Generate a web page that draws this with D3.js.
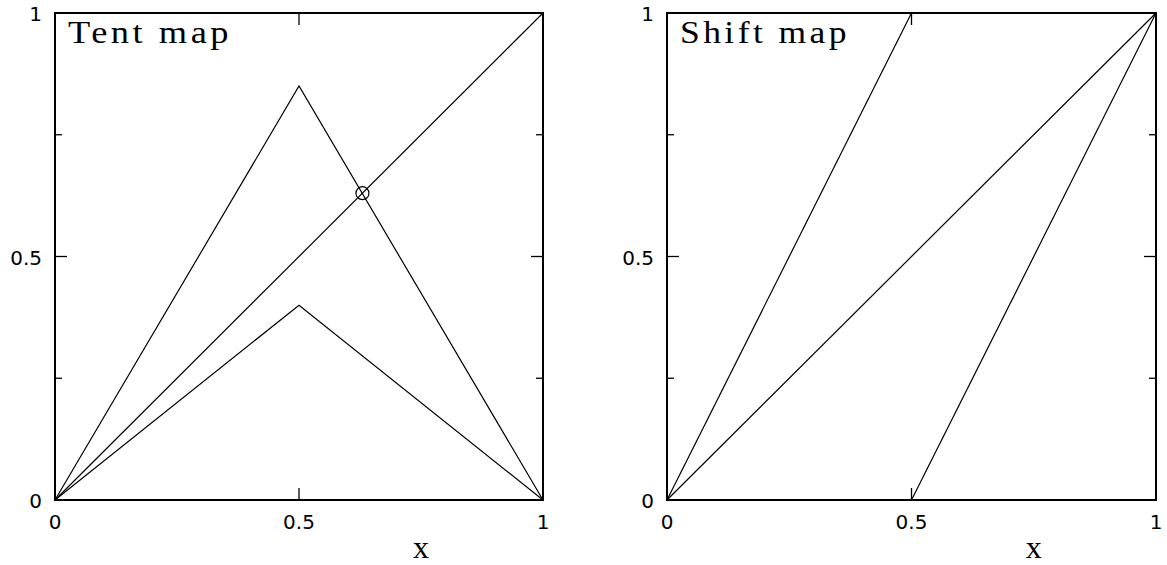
<!DOCTYPE html>
<html>
<head>
<meta charset="utf-8">
<script src="https://cdn.jsdelivr.net/npm/d3@7"></script>
<style>
  html, body { margin: 0; padding: 0; background: #fff; }
  svg { display: block; }
</style>
</head>
<body>
<svg id="chart" width="1167" height="565"></svg>
<script>
// Panel titles and axis labels
const panelTitles = ["Tent map", "Shift map"];
const titleWidths = [164, 170];
const axisLabel = "x";
const majorTicks = [0, 0.5, 1];
const tickLabels = ["0", "0.5", "1"];
const minorTicksY = [0.25, 0.75];

// Tent map curves
const tentUpper = [[0, 0], [0.5, 0.85], [1, 0]];
const tentLower = [[0, 0], [0.5, 0.4], [1, 0]];
const diagonal = [[0, 0], [1, 1]];
const fixedPoint = [0.63, 0.63];

// Shift map branches
const shiftLeft = [[0, 0], [0.5, 1]];
const shiftRight = [[0.5, 0], [1, 1]];

const panelCurves = [
  [tentUpper, tentLower, diagonal],
  [shiftLeft, shiftRight, diagonal]
];
const panelMarkers = [[fixedPoint], []];

const svg = d3.select("#chart");
const panelX = [[55, 543], [667, 1156]];
const frameTop = 13, frameBottom = 500;

panelX.forEach((xr, i) => {
  const x = d3.scaleLinear().domain([0, 1]).range(xr);
  const y = d3.scaleLinear().domain([0, 1]).range([frameBottom, frameTop]);
  const g = svg.append("g");

  // frame
  g.append("rect")
    .attr("x", xr[0]).attr("y", frameTop)
    .attr("width", xr[1] - xr[0]).attr("height", frameBottom - frameTop)
    .attr("fill", "none").attr("stroke", "#000").attr("stroke-width", 2);

  // inward ticks: x only at the midpoint, y at quarters
  const midTicks = majorTicks.filter(v => v > 0 && v < 1);
  midTicks.forEach(v => {
    g.append("line").attr("x1", x(v)).attr("x2", x(v))
      .attr("y1", frameBottom).attr("y2", frameBottom - 12);
    g.append("line").attr("x1", x(v)).attr("x2", x(v))
      .attr("y1", frameTop).attr("y2", frameTop + 12);
  });
  const yTicks = [
    ...midTicks.map(v => ({ v, len: 12 })),
    ...minorTicksY.map(v => ({ v, len: 7 }))
  ];
  yTicks.forEach(t => {
    g.append("line").attr("y1", y(t.v)).attr("y2", y(t.v))
      .attr("x1", xr[0]).attr("x2", xr[0] + t.len);
    g.append("line").attr("y1", y(t.v)).attr("y2", y(t.v))
      .attr("x1", xr[1]).attr("x2", xr[1] - t.len);
  });
  g.selectAll("line").attr("stroke", "#000").attr("stroke-width", 1.3);

  // tick labels
  majorTicks.forEach((v, k) => {
    g.append("text")
      .attr("x", x(v)).attr("y", 529)
      .attr("text-anchor", "middle")
      .attr("font-family", "DejaVu Sans").attr("font-size", 20)
      .text(tickLabels[k]);
    g.append("text")
      .attr("x", xr[0] - 13).attr("y", y(v) + 8)
      .attr("text-anchor", "end")
      .attr("font-family", "DejaVu Sans").attr("font-size", 20)
      .text(tickLabels[k]);
  });

  // axis label
  g.append("text")
    .attr("x", x(0.75)).attr("y", 558)
    .attr("text-anchor", "middle")
    .attr("font-family", "Liberation Serif").attr("font-size", 32)
    .text(axisLabel);

  // title
  g.append("text")
    .attr("x", xr[0] + 13).attr("y", 43)
    .attr("font-family", "Liberation Serif").attr("font-size", 31)
    .attr("letter-spacing", 3)
    .attr("textLength", titleWidths[i]).attr("lengthAdjust", "spacingAndGlyphs")
    .text(panelTitles[i]);

  // curves
  const line = d3.line().x(d => x(d[0])).y(d => y(d[1]));
  panelCurves[i].forEach(c => {
    g.append("path").attr("d", line(c))
      .attr("fill", "none").attr("stroke", "#000").attr("stroke-width", 1.2);
  });

  // markers
  panelMarkers[i].forEach(p => {
    g.append("circle").attr("cx", x(p[0])).attr("cy", y(p[1])).attr("r", 6.5)
      .attr("fill", "none").attr("stroke", "#000").attr("stroke-width", 1.2);
  });
});
</script>
</body>
</html>
